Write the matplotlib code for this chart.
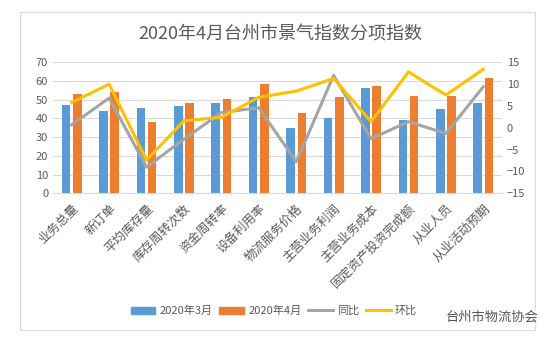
import numpy as np
import matplotlib
matplotlib.use("Agg")
import matplotlib.pyplot as plt
from matplotlib.lines import Line2D
from matplotlib.patches import Patch, Rectangle

plt.rcParams['font.family'] = ['Noto Sans CJK SC', 'DejaVu Sans']

# datos
categorias = ['业务总量', '新订单', '平均库存量', '库存周转次数', '资金周转率', '设备利用率',
              '物流服务价格', '主营业务利润', '主营业务成本', '固定资产投资完成额', '从业人员', '从业活动预期']
marzo = [47.2, 44.0, 45.6, 46.7, 48.3, 51.5, 35.0, 40.2, 56.3, 39.2, 45.0, 48.3]
abril = [53.1, 54.0, 38.0, 48.4, 50.4, 58.4, 43.0, 51.5, 57.4, 52.0, 52.0, 61.6]
tongbi = [0.7, 6.8, -9.0, -2.6, 3.5, 4.6, -7.8, 12.0, -2.5, 1.4, -1.3, 9.4]
huanbi = [5.8, 10.0, -7.4, 1.6, 2.4, 7.0, 8.4, 11.3, 1.4, 12.8, 7.5, 13.4]

azul = '#5B9BD5'
naranja = '#ED7D31'
gris = '#A5A5A5'
amarillo = '#FFC000'
texto = '#595959'

W, H = 555, 342
fig = plt.figure(figsize=(W / 100, H / 100), dpi=100)

# marco del grafico
fig.patches.append(Rectangle((20 / W, 1 - 330 / H), 515 / W, 318 / H, transform=fig.transFigure,
                             fill=False, edgecolor='#D9D9D9', linewidth=0.8))

ax = fig.add_axes([53 / W, 1 - 193.3 / H, 449 / W, 131 / H])
x = np.arange(len(categorias))
ancho = 0.23
ax.bar(x - 0.15, marzo, ancho, color=azul, zorder=2)
ax.bar(x + 0.15, abril, ancho, color=naranja, zorder=2)
ax.set_xlim(-0.5, len(categorias) - 0.5)
ax.set_ylim(0, 70)
ax.set_yticks(range(0, 71, 10))
ax.grid(axis='y', color='#D9D9D9', linewidth=0.8, zorder=0)
ax.set_axisbelow(True)
for s in ['top', 'right', 'left']:
    ax.spines[s].set_visible(False)
ax.spines['bottom'].set_color('#D9D9D9')
ax.tick_params(axis='both', length=0, colors=texto, labelsize=8)
ax.set_xticks(x)
ax.set_xticklabels(categorias, rotation=45, ha='right', rotation_mode='anchor', fontsize=9)
ax.tick_params(axis='x', pad=6)

ax2 = ax.twinx()
ax2.plot(x, tongbi, color=gris, linewidth=2.2, zorder=3)
ax2.plot(x, huanbi, color=amarillo, linewidth=2.2, zorder=4)
ax2.set_ylim(-15, 15)
ax2.set_yticks(range(-15, 16, 5))
for s in ax2.spines.values():
    s.set_visible(False)
ax2.tick_params(axis='y', length=0, colors=texto, labelsize=8)

fig.text(280 / W, 1 - 35 / H, '2020年4月台州市景气指数分项指数', ha='center', va='center',
         fontsize=13, color=texto)

manijas = [Patch(color=azul), Patch(color=naranja),
           Line2D([], [], color=gris, linewidth=2.2), Line2D([], [], color=amarillo, linewidth=2.2)]
etiquetas = ['2020年3月', '2020年4月', '同比', '环比']
fig.legend(manijas, etiquetas, ncol=4, loc='center', bbox_to_anchor=(274 / W, 1 - 311 / H),
           frameon=False, fontsize=8, handlelength=2.2, handleheight=0.6, columnspacing=0.6,
           handletextpad=0.4, labelcolor=texto)

# marca de agua
fig.text(492 / W, 1 - 317 / H, '台州市物流协会', ha='center', va='center', fontsize=9.5,
         color='#555555', bbox=dict(facecolor='white', edgecolor='none', alpha=0.6, pad=1))

fig.savefig('out.png', dpi=100)
